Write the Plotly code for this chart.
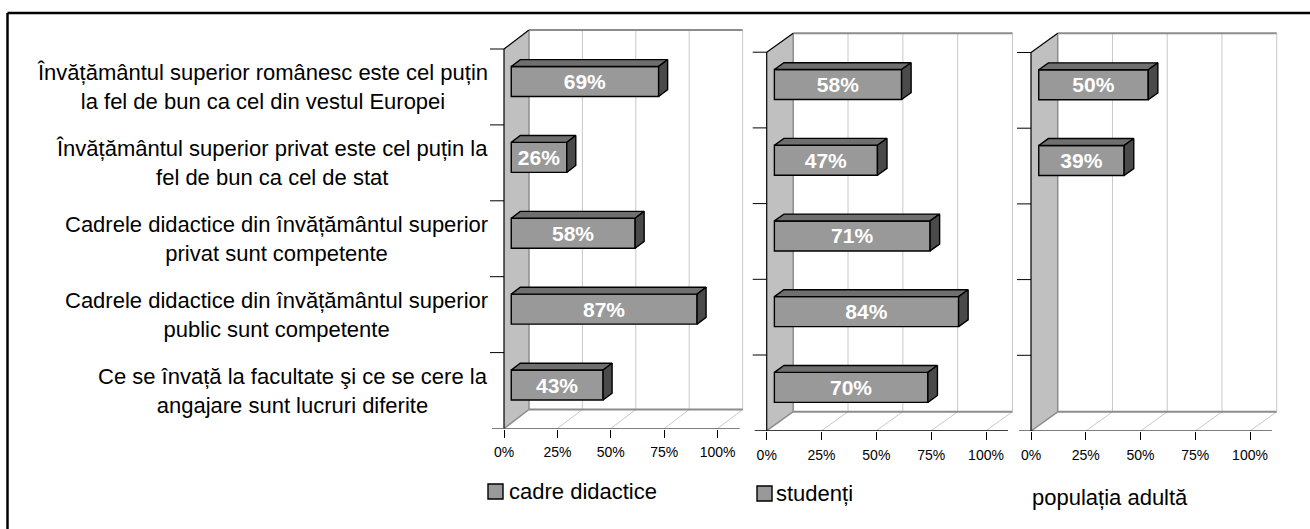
import plotly.graph_objects as go

W, H = 1310, 529
FONT = "Liberation Sans, Arial, Helvetica, sans-serif"

# ---- data -------------------------------------------------------------
categories = [
    "Învățământul superior românesc este cel puțin<br>la fel de bun ca cel din vestul Europei",
    "Învățământul superior privat este cel puțin la<br>fel de bun ca cel de stat",
    "Cadrele didactice din învățământul superior<br>privat sunt competente",
    "Cadrele didactice din învățământul superior<br>public sunt competente",
    "Ce se învață la facultate şi ce se cere la<br>angajare sunt lucruri diferite",
]
cadre_didactice = [69, 26, 58, 87, 43]
studenti = [58, 47, 71, 84, 70]
populatia_adulta = [50, 39, None, None, None]
series_names = ["cadre didactice", "studenți", "populația adultă"]
series_values = [cadre_didactice, studenti, populatia_adulta]
x_ticks = [0, 25, 50, 75, 100]
x_tick_labels = ["0%", "25%", "50%", "75%", "100%"]

# ---- panel geometry (pixels) ------------------------------------------
# x0: front 0% line, span: width of 0..100%, bottom: front floor line,
# band: height of one category row, wall: oblique depth (dx, dy) of the box
panels = [
    dict(x0=504.0, span=213.6, bottom=428.5, band=75.9, wall=(25.0, 19.0),
         key=(488, 484, 15), label_x=507, label_y=491),
    dict(x0=766.7, span=219.3, bottom=430.7, band=75.7, wall=(26.5, 19.0),
         key=(757, 486, 15), label_x=774, label_y=493),
    dict(x0=1031.0, span=219.0, bottom=431.0, band=75.7, wall=(26.7, 19.2),
         key=None, label_x=1030, label_y=497),
]

X_RANGE = [-7.5, 113.5]
Y_RANGE = [0, 5.3]
BAR_THICK = 30.0     # px
BAR_NEAR = 0.29      # depth of the bar front face, fraction of the box depth
BAR_FAR = 0.65       # depth of the bar back face

FRONT = "#999999"
TOP = "#6f6f6f"
SIDE = "#4a4a4a"
WALL = "#c0c0c0"
EDGE = "#8c8c8c"
GRID = "#c8c8c8"

fig = go.Figure()
shapes = []
annotations = []
layout_axes = {}

n = len(categories)
centres = [n - 0.5 - i for i in range(n)]


def seg(xr, yr, x0, y0, x1, y1, color, width):
    shapes.append(dict(type="line", xref=xr, yref=yr, x0=x0, y0=y0, x1=x1, y1=y1,
                       layer="below", line=dict(color=color, width=width)))


def face(xr, yr, xs, ys, color):
    fig.add_trace(go.Scatter(
        x=xs + [xs[0]], y=ys + [ys[0]], xaxis=xr, yaxis=yr, mode="lines",
        fill="toself", fillcolor=color, line=dict(color="black", width=1.4),
        hoverinfo="skip", showlegend=False))


for i, (p, name, values) in enumerate(zip(panels, series_names, series_values)):
    s = "" if i == 0 else str(i + 1)
    xr, yr = "x" + s, "y" + s
    ux = 100.0 / p["span"]      # data units per pixel, horizontally
    uy = 1.0 / p["band"]        # data units per pixel, vertically
    wdx, wdy = p["wall"][0] * ux, p["wall"][1] * uy

    layout_axes["xaxis" + s] = dict(
        domain=[(p["x0"] + X_RANGE[0] * p["span"] / 100) / W,
                (p["x0"] + X_RANGE[1] * p["span"] / 100) / W],
        range=X_RANGE, anchor=yr, tickmode="array", tickvals=x_ticks,
        ticktext=x_tick_labels, ticks="outside", ticklen=8, tickwidth=1,
        tickcolor="black", ticklabelstandoff=3,
        showgrid=False, zeroline=False, showline=False, fixedrange=True,
        tickfont=dict(size=14, color="black", family=FONT))
    layout_axes["yaxis" + s] = dict(
        domain=[1 - p["bottom"] / H, 1 - (p["bottom"] - Y_RANGE[1] * p["band"]) / H],
        range=Y_RANGE, anchor=xr, visible=False, fixedrange=True)

    # side wall
    shapes.append(dict(type="path", xref=xr, yref=yr, layer="below",
                       path=f"M 0,0 L {wdx},{wdy} L {wdx},{n + wdy} L 0,{n} Z",
                       fillcolor=WALL, line=dict(width=0)))
    # back wall and floor gridlines
    for v in x_ticks[1:]:
        seg(xr, yr, v + wdx, wdy, v + wdx, n + wdy, GRID, 1)
        seg(xr, yr, v, 0, v + wdx, wdy, GRID, 1)
    seg(xr, yr, wdx, n + wdy, 100 + wdx, n + wdy, EDGE, 2)
    seg(xr, yr, wdx, wdy, 100 + wdx, wdy, EDGE, 2)
    seg(xr, yr, wdx, wdy, wdx, n + wdy, EDGE, 1.5)
    seg(xr, yr, 0, 0, wdx, wdy, EDGE, 1.5)
    seg(xr, yr, 0, n, wdx, n + wdy, "black", 1.2)
    # front axes and category ticks
    seg(xr, yr, 0, 0, 0, n, "black", 1.2)
    seg(xr, yr, -12 * ux, 0, 100 + 22 * ux, 0, "black", 1.2)
    for k in range(1, n + 1):
        seg(xr, yr, -14 * ux, k, 0, k, "black", 1)

    # bars: front face through the bar trace, top and side faces as polygons
    ox, oy = BAR_NEAR * wdx, BAR_NEAR * wdy
    ddx, ddy = (BAR_FAR - BAR_NEAR) * wdx, (BAR_FAR - BAR_NEAR) * wdy
    h = BAR_THICK * uy
    vals = [v for v in values if v is not None]
    ys = [c + oy for c, v in zip(centres, values) if v is not None]
    fig.add_trace(go.Bar(
        x=vals, y=ys, base=[ox] * len(vals), orientation="h", width=h,
        xaxis=xr, yaxis=yr, marker=dict(color=FRONT, line=dict(color="black", width=1.4)),
        text=[f"{v}%" for v in vals], textposition="inside", insidetextanchor="middle",
        textangle=0, constraintext="none",
        textfont=dict(color="white", size=21, family=FONT, weight="bold"),
        hoverinfo="skip", showlegend=False))
    for v, cy in zip(vals, ys):
        top, bot = cy + h / 2, cy - h / 2
        face(xr, yr, [ox, ox + v, ox + v + ddx, ox + ddx],
             [top, top, top + ddy, top + ddy], TOP)
        face(xr, yr, [ox + v, ox + v + ddx, ox + v + ddx, ox + v],
             [bot, bot + ddy, top + ddy, top], SIDE)

    # legend entry
    if p["key"] is not None:
        kx, ky, ks = p["key"]
        shapes.append(dict(type="rect", xref="paper", yref="paper",
                           x0=kx / W, x1=(kx + ks) / W, y0=1 - ky / H, y1=1 - (ky + ks) / H,
                           fillcolor=FRONT, line=dict(color="black", width=1.4)))
    annotations.append(dict(xref="paper", yref="paper", x=p["label_x"] / W,
                            y=1 - p["label_y"] / H, xanchor="left", yanchor="middle",
                            text=name, showarrow=False,
                            font=dict(size=22, color="black", family=FONT)))

# category labels, right-aligned against the first panel
for c, label in zip(centres, categories):
    annotations.append(dict(xref="paper", yref="y", x=490 / W, y=c, xanchor="right",
                            yanchor="middle", align="center", text=label, showarrow=False,
                            font=dict(size=22, color="black", family=FONT)))

# outer frame
shapes.append(dict(type="line", xref="paper", yref="paper", x0=7.5 / W, x1=7.5 / W,
                   y0=-0.05, y1=1 - 13 / H, line=dict(color="black", width=2.5)))
shapes.append(dict(type="line", xref="paper", yref="paper", x0=7.5 / W, x1=1.05,
                   y0=1 - 13 / H, y1=1 - 13 / H, line=dict(color="black", width=2.5)))

fig.update_layout(
    width=W, height=H, margin=dict(l=0, r=0, t=0, b=0),
    paper_bgcolor="white", plot_bgcolor="rgba(0,0,0,0)",
    font=dict(family=FONT, color="black"),
    shapes=shapes, annotations=annotations, showlegend=False,
    **layout_axes)

fig.write_html("out.html")
